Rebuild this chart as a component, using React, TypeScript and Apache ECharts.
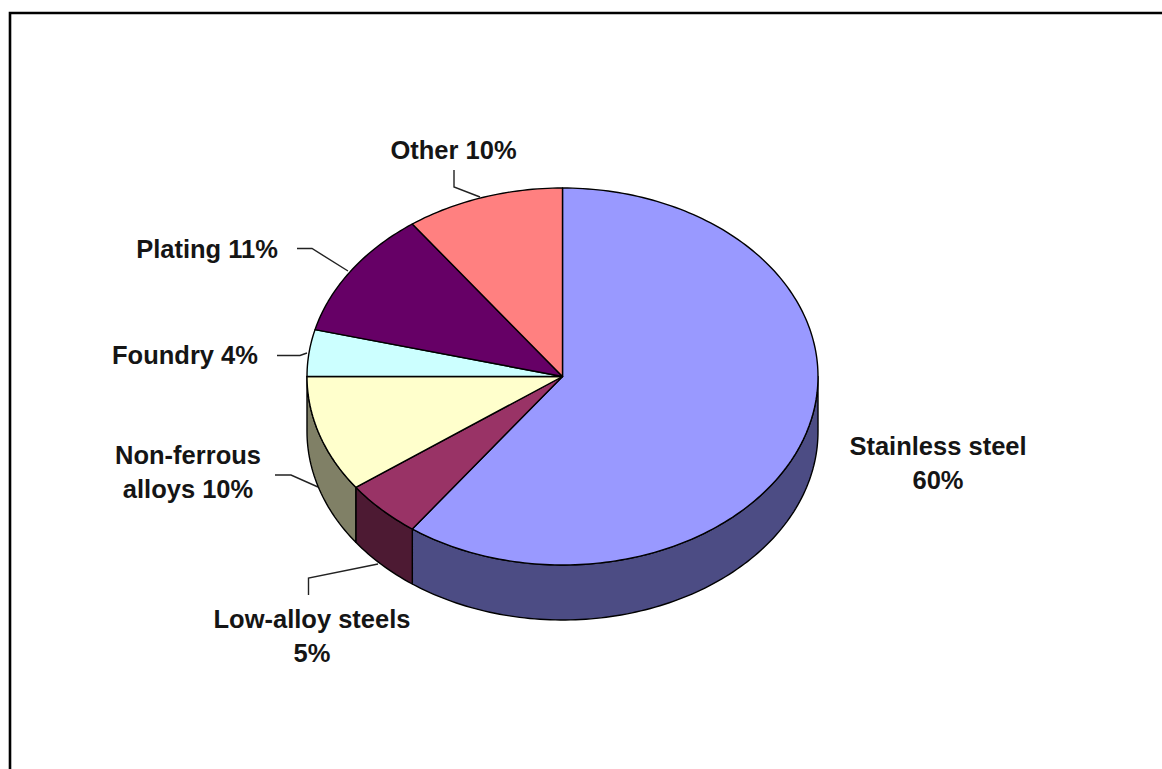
import React, { useEffect, useRef } from "react";
import * as echarts from "echarts";

const categories = ["Stainless steel", "Low-alloy steels", "Non-ferrous alloys", "Foundry", "Plating", "Other"];
const shares = [60, 5, 10, 4, 11, 10];
const topColors = ["#9999ff", "#993366", "#ffffcc", "#ccffff", "#660066", "#ff8080"];
const wallColors = ["#4c4c84", "#4d1a33", "#808066", "#668080", "#330033", "#804040"];

const labelTexts = [
  "Stainless steel\n60%",
  "Low-alloy steels\n5%",
  "Non-ferrous\nalloys 10%",
  "Foundry 4%",
  "Plating 11%",
  "Other 10%",
];
const labelAnchors = [
  [938, 463],
  [312, 636],
  [188, 472],
  [185, 355],
  [207, 249],
  [453.5, 150],
];
const leaders: number[][][] = [
  [[308.5, 595], [308.5, 578], [378, 564]],
  [[275, 475], [291, 475], [318, 487]],
  [[277, 355.5], [300, 355.5], [307, 353]],
  [[297, 248.5], [312, 248.5], [348, 271]],
  [[454, 170], [454, 187], [480, 197]],
];

// Geometry of the tilted disc.
const CX = 562.5;
const CY = 376.5;
const RX = 255.5;
const RY = 188.5;
const DEPTH = 55;
const TAU = Math.PI * 2;

const rimPoint = (a: number, dy = 0) => [CX + RX * Math.sin(a), CY - RY * Math.cos(a) + dy];

function arcPoints(from: number, to: number, dy = 0) {
  const steps = Math.max(2, Math.ceil(Math.abs(to - from) / 0.02));
  const pts: number[][] = [];
  for (let i = 0; i <= steps; i++) pts.push(rimPoint(from + ((to - from) * i) / steps, dy));
  return pts;
}

const total = shares.reduce((s, v) => s + v, 0);

function sliceBounds(index: number) {
  const before = shares.slice(0, index).reduce((s, v) => s + v, 0);
  return [(before / total) * TAU, ((before + shares[index]) / total) * TAU];
}

const edge = { stroke: "#000", lineWidth: 1.4, lineJoin: "round" as const };

function renderSlice(params: any) {
  const i = params.dataIndex;
  const [a0, a1] = sliceBounds(i);
  const children: any[] = [];

  // The wall is visible only on the near half of the rim (quarter points at PI/2 and 3PI/2).
  const wFrom = Math.max(a0, Math.PI / 2);
  const wTo = Math.min(a1, (3 * Math.PI) / 2);
  if (wTo > wFrom) {
    const top = arcPoints(wFrom, wTo);
    const bottom = arcPoints(wTo, wFrom, DEPTH);
    children.push({
      type: "polygon",
      shape: { points: [...top, ...bottom] },
      style: { fill: wallColors[i], ...edge },
    });
  }
  children.push({
    type: "polygon",
    shape: { points: [[CX, CY], ...arcPoints(a0, a1)] },
    style: { fill: topColors[i], ...edge },
  });
  return { type: "group", children };
}

export default function App() {
  const ref = useRef<HTMLDivElement>(null);

  useEffect(() => {
    const chart = echarts.init(ref.current!, undefined, { renderer: "svg" });
    const textStyle = {
      fontFamily: "Liberation Sans",
      fontWeight: "bold",
      fontSize: 25.5,
      lineHeight: 34,
      fill: "#151515",
      align: "center",
      verticalAlign: "middle",
    };
    chart.setOption({
      animation: false,
      backgroundColor: "#fff",
      series: [
        {
          type: "custom",
          coordinateSystem: "none",
          silent: true,
          renderItem: renderSlice,
          data: categories.map((name, i) => ({ name, value: shares[i] })),
        },
      ],
      graphic: [
        {
          type: "polyline",
          silent: true,
          shape: { points: [[10, 769], [10, 13], [1162, 13]] },
          style: { stroke: "#000", lineWidth: 2.6, fill: "none" },
        },
        ...leaders.map((points) => ({
          type: "polyline",
          silent: true,
          shape: { points },
          style: { stroke: "#222", lineWidth: 1.4, fill: "none" },
        })),
        ...labelTexts.map((text, i) => ({
          type: "text",
          silent: true,
          x: labelAnchors[i][0],
          y: labelAnchors[i][1],
          style: { ...textStyle, text },
        })),
      ],
    });
    return () => chart.dispose();
  }, []);

  return <div ref={ref} style={{ position: "fixed", left: 0, top: 0, width: 1162, height: 769 }} />;
}
